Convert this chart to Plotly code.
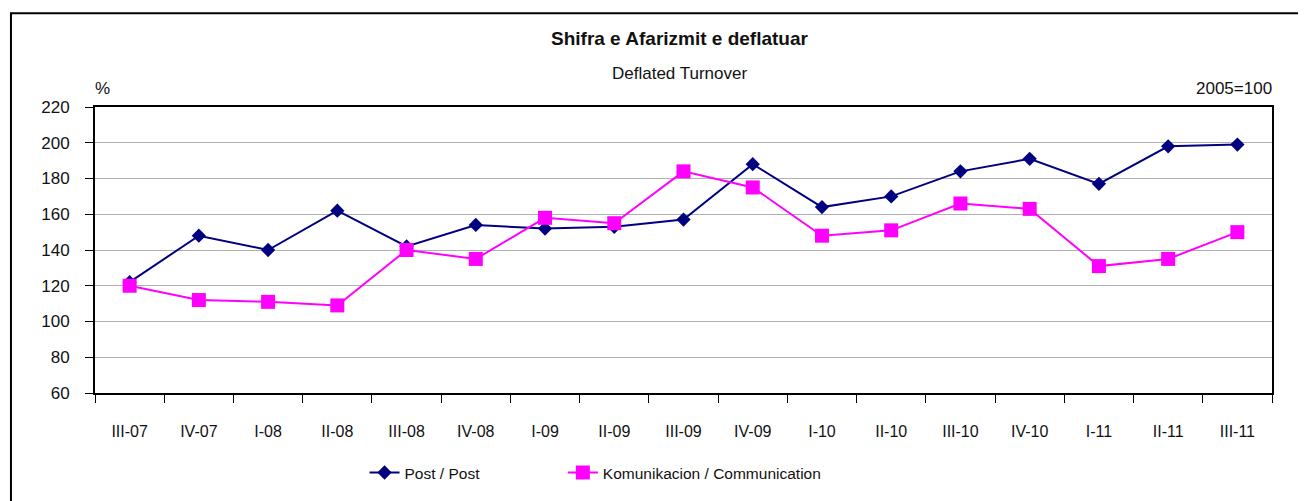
import plotly.graph_objects as go

categories = ["III-07", "IV-07", "I-08", "II-08", "III-08", "IV-08", "I-09", "II-09", "III-09",
              "IV-09", "I-10", "II-10", "III-10", "IV-10", "I-11", "II-11", "III-11"]
post = [122, 148, 140, 162, 142, 154, 152, 153, 157, 188, 164, 170, 184, 191, 177, 198, 199]
communication = [120, 112, 111, 109, 140, 135, 158, 155, 184, 175, 148, 151, 166, 163, 131, 135, 150]

FONT = "Liberation Sans, Arial, sans-serif"
TXT = "#111111"

fig = go.Figure()
fig.add_trace(go.Scatter(
    x=categories, y=post, name="Post / Post", mode="lines+markers",
    line=dict(color="#000080", width=2),
    marker=dict(symbol="diamond", size=11, color="#000080"),
    legend="legend",
))
fig.add_trace(go.Scatter(
    x=categories, y=communication, name="Komunikacion / Communication", mode="lines+markers",
    line=dict(color="#FF00FF", width=2),
    marker=dict(symbol="square", size=14, color="#FF00FF"),
    legend="legend2",
))

leg_common = dict(orientation="h", xanchor="left", y=-0.275, yanchor="middle",
                  font=dict(family=FONT, size=15.5, color=TXT), bgcolor="rgba(0,0,0,0)")

fig.update_layout(
    width=1298, height=493,
    margin=dict(l=87, r=34, t=99, b=107),
    paper_bgcolor="white", plot_bgcolor="white",
    font=dict(family=FONT, size=16, color=TXT),
    showlegend=True,
    legend=dict(x=0.229, **leg_common),
    legend2=dict(x=0.3975, **leg_common),
    xaxis=dict(
        type="category", range=[-0.5, 16.5], showgrid=False, showline=True,
        linecolor="black", linewidth=2, mirror=True, ticks="outside",
        tickson="boundaries", ticklen=8, tickcolor="black", tickwidth=1,
        ticklabelstandoff=23, tickfont=dict(family=FONT, size=16, color=TXT),
    ),
    yaxis=dict(
        range=[60, 220], dtick=20, showgrid=True, gridcolor="#b0b0b0", gridwidth=1,
        showline=True, linecolor="black", linewidth=2, mirror=True,
        ticks="outside", ticklen=8, tickcolor="black", tickwidth=1,
        ticklabelstandoff=12, tickfont=dict(family=FONT, size=17, color=TXT),
        zeroline=False,
    ),
    annotations=[
        dict(text="<b>Shifra e Afarizmit e deflatuar</b>", x=0.497, y=1.240, xref="paper", yref="paper",
             xanchor="center", yanchor="middle", showarrow=False,
             font=dict(family=FONT, size=19, color=TXT)),
        dict(text="Deflated Turnover", x=0.497, y=1.118, xref="paper", yref="paper",
             xanchor="center", yanchor="middle", showarrow=False,
             font=dict(family=FONT, size=17, color=TXT)),
        dict(text="%", x=-0.002, y=1.066, xref="paper", yref="paper",
             xanchor="left", yanchor="middle", showarrow=False,
             font=dict(family=FONT, size=17, color=TXT)),
        dict(text="2005=100", x=1.002, y=1.066, xref="paper", yref="paper",
             xanchor="right", yanchor="middle", showarrow=False,
             font=dict(family=FONT, size=17, color=TXT)),
    ],
    shapes=[
        dict(type="rect", xref="paper", yref="paper", x0=-0.0714, x1=1.2, y0=-0.6, y1=1.3275,
             line=dict(color="black", width=2), fillcolor="rgba(0,0,0,0)", layer="below"),
    ],
)

fig.write_html("out.html")
